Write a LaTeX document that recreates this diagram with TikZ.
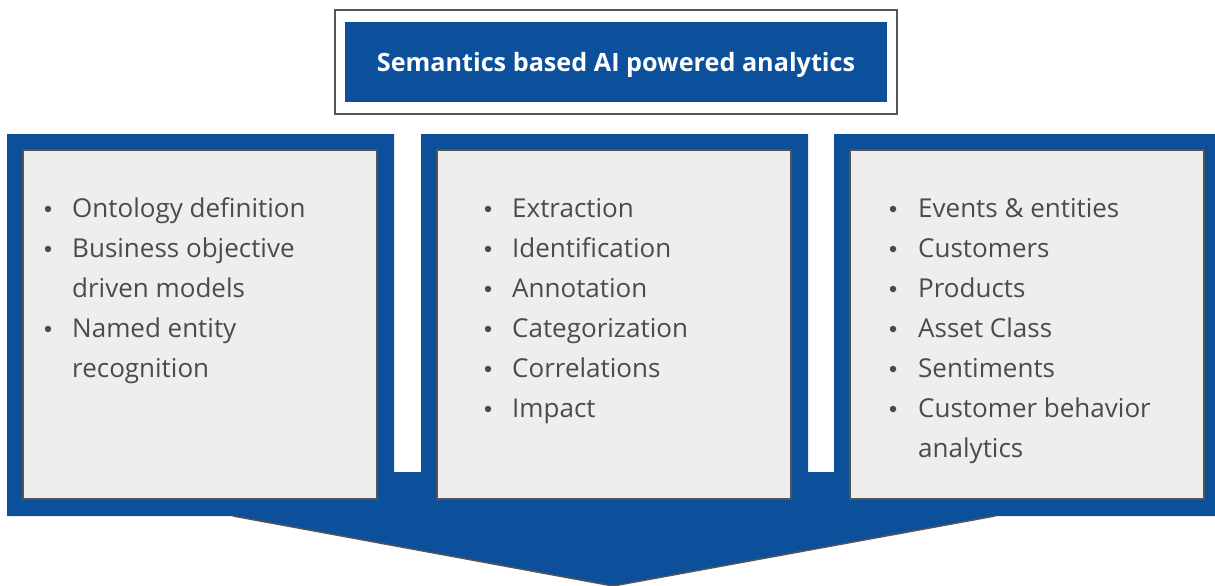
\documentclass[tikz,border=0pt]{standalone}
\usepackage{fontspec}
\setmainfont{Open Sans}
\definecolor{myblue}{RGB}{12,80,156}
\definecolor{boxgray}{RGB}{238,238,238}
\definecolor{edgegray}{RGB}{85,85,85}
\definecolor{textgray}{RGB}{77,74,75}
\newcommand\itemfont{\fontsize{26}{30}\selectfont}
\newcommand\titlefont{\fontsize{25.2}{28}\selectfont\bfseries}
\begin{document}
\begin{tikzpicture}[x=1pt,y=-1pt,
  bandfill/.style={fill=myblue},
  panelbox/.style={fill=boxgray,draw=edgegray,line width=1.5pt},
  slantline/.style={draw=edgegray,line width=1.5pt},
  item/.style={anchor=base west,inner sep=0pt,text=textgray,font=\itemfont},
  dot/.style={circle,fill=textgray,draw=none,minimum size=6.5pt,inner sep=0pt},
  titlebox/.style={fill=myblue,draw=none,text=white,font=\titlefont,minimum width=542pt,minimum height=80pt,inner sep=0pt},
  titletext/.style={text=white,font=\titlefont,inner sep=0pt},
  outerbox/.style={draw=edgegray,line width=2pt,fill=white}]
\useasboundingbox (0,0) rectangle (1215,586);
% title
\path[outerbox] (335,10) rectangle (897,114);
\node[titlebox] (title) at (616,62) {};
\node[titletext] (titlelabel) at (616,65) {Semantics based AI powered analytics};
% blue band with arrow
\path[bandfill] (7,134) -- (394,134) -- (394,472) -- (421,472) -- (421,134)
  -- (808,134) -- (808,472) -- (834,472) -- (834,134) -- (1215,134)
  -- (1215,516) -- (995,516) -- (613,586) -- (233,516) -- (7,516) -- cycle;
\draw[slantline] (233,516) -- (613,586) -- (995,516);
% panels
\path[panelbox] (23,150) rectangle (377,499);
\path[panelbox] (437,150) rectangle (791,499);
\path[panelbox] (850,150) rectangle (1204,499);
% left items
\foreach \y [count=\i] in {217,257,337}{\node[dot] (ld\i) at (48,\y-8) {};}
\node[item] (l1) at (72,217) {Ontology definition};
\node[item] (l2) at (72,257) {Business objective};
\node[item] (l2b) at (72,297) {driven models};
\node[item] (l3) at (72,337) {Named entity};
\node[item] (l3b) at (72,377) {recognition};
% middle items
\foreach \y [count=\i] in {217,257,297,337,377,417}{\node[dot] (md\i) at (488,\y-8) {};}
\node[item] (m1) at (512,217) {Extraction};
\node[item] (m2) at (512,257) {Identification};
\node[item] (m3) at (512,297) {Annotation};
\node[item] (m4) at (512,337) {Categorization};
\node[item] (m5) at (512,377) {Correlations};
\node[item] (m6) at (512,417) {Impact};
% right items
\foreach \y [count=\i] in {217,257,297,337,377,417}{\node[dot] (rd\i) at (893,\y-8) {};}
\node[item] (r1) at (918,217) {Events \& entities};
\node[item] (r2) at (918,257) {Customers};
\node[item] (r3) at (918,297) {Products};
\node[item] (r4) at (918,337) {Asset Class};
\node[item] (r5) at (918,377) {Sentiments};
\node[item] (r6) at (918,417) {Customer behavior};
\node[item] (r6b) at (918,457) {analytics};
\end{tikzpicture}
\end{document}
